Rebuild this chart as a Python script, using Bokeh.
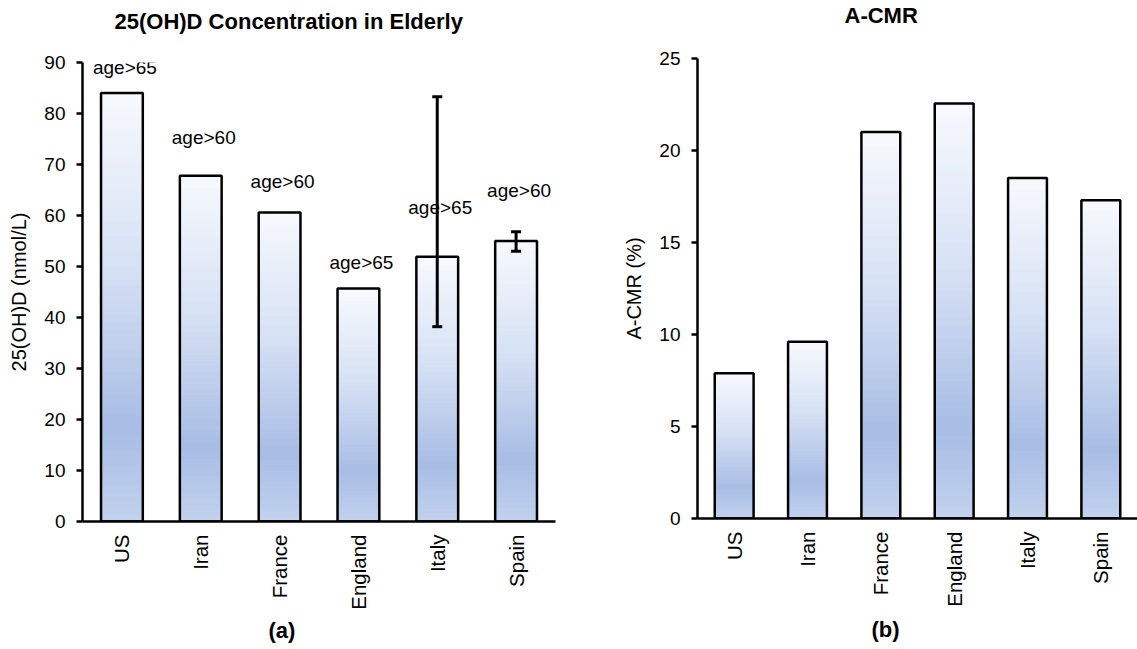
import numpy as np
from bokeh.plotting import figure
from bokeh.models import (FactorRange, Range1d, ColumnDataSource, Whisker, TeeHead,
                          Title, SingleIntervalTicker, LabelSet)
from bokeh.layouts import row
from bokeh.embed import file_html
from bokeh.resources import INLINE
from bokeh.core.properties import value

# ---------------- data ----------------
countries = ["US", "Iran", "France", "England", "Italy", "Spain"]
conc = [84.0, 67.8, 60.6, 45.7, 51.9, 55.0]
age_labels = ["age>65", "age>60", "age>60", "age>65", "age>65", "age>60"]
age_label_y = [89.0, 75.3, 66.7, 50.8, 61.6, 64.9]
err_countries = ["Italy", "Spain"]
err_lower = [38.2, 53.0]
err_upper = [83.3, 56.8]
acmr = [7.9, 9.6, 21.0, 22.55, 18.5, 17.3]

FONT = "Liberation Sans"
BAR_W = 0.53

# gradient stops (fraction of bar height from bottom -> RGB)
STOPS = [(0.0, (194, 210, 238)), (0.22, (168, 189, 229)),
         (0.6, (214, 225, 244)), (1.0, (247, 249, 253))]


def grad_color(t):
    for (t0, c0), (t1, c1) in zip(STOPS[:-1], STOPS[1:]):
        if t <= t1:
            f = (t - t0) / (t1 - t0)
            r, g, b = (int(round(a + (bb - a) * f)) for a, bb in zip(c0, c1))
            return "#%02x%02x%02x" % (r, g, b)
    return "#%02x%02x%02x" % STOPS[-1][1]


def gradient_source(cats, vals, n=60):
    xs, bots, tops, cols = [], [], [], []
    for c, v in zip(cats, vals):
        for i in range(n):
            xs.append(c)
            bots.append(v * i / n)
            tops.append(v * (i + 1) / n)
            cols.append(grad_color((i + 0.5) / n))
    return ColumnDataSource(dict(x=xs, bottom=bots, top=tops, color=cols))


def make_fig(width, height, yend, interval, bl, br, bt, bb, title, title_off,
             spacer, ylabel, sub, sub_off, sub_standoff, vals):
    p = figure(x_range=FactorRange(*countries), y_range=Range1d(0, yend),
               width=width, height=height, output_backend="svg", title=None,
               toolbar_location=None, min_border_left=bl, min_border_right=br,
               min_border_top=bt, min_border_bottom=bb)
    p.frame_align = False
    p.outline_line_color = None
    p.grid.grid_line_color = None
    p.background_fill_color = "white"
    p.border_fill_color = "white"

    p.vbar(x="x", bottom="bottom", top="top", width=BAR_W, fill_color="color",
           line_color="color", line_width=1, source=gradient_source(countries, vals))
    p.vbar(x=countries, top=vals, width=BAR_W, fill_color=None,
           line_color="black", line_width=2.5)

    # invisible spacer between the frame and the title
    p.add_layout(Title(text=" ", text_font_size="1px", standoff=spacer), "above")
    p.add_layout(Title(text=title, align="left", offset=title_off, standoff=0,
                       text_font=FONT, text_font_size="22px", text_font_style="bold",
                       text_color="black"), "above")

    p.add_layout(Title(text=sub, align="left", offset=sub_off, standoff=sub_standoff,
                       text_font=FONT, text_font_size="22px", text_font_style="bold",
                       text_color="black"), "below")

    ya = p.yaxis[0]
    ya.ticker = SingleIntervalTicker(interval=interval)
    ya.axis_line_width = 2.5
    ya.axis_line_color = "black"
    ya.major_tick_line_width = 2.5
    ya.major_tick_out = 6
    ya.major_tick_in = 0
    ya.minor_tick_line_color = None
    ya.major_label_text_font = FONT
    ya.major_label_text_font_size = "19px"
    ya.major_label_text_color = "black"
    ya.major_label_standoff = 11
    ya.axis_label = ylabel
    ya.axis_label_text_font = FONT
    ya.axis_label_text_font_size = "20px"
    ya.axis_label_text_font_style = "normal"
    ya.axis_label_text_color = "black"
    ya.axis_label_standoff = 11

    xa = p.xaxis[0]
    xa.axis_line_width = 2.5
    xa.axis_line_color = "black"
    xa.major_tick_line_color = None
    xa.minor_tick_line_color = None
    xa.major_label_orientation = np.pi / 2
    xa.major_label_text_font = FONT
    xa.major_label_text_font_size = "20.5px"
    xa.major_label_text_color = "black"
    xa.major_label_standoff = 7
    return p


pa = make_fig(600, 649, 90, 10, 82, 45, 62, 128,
              "25(OH)D Concentration in Elderly", 32, 26,
              "25(OH)D (nmol/L)", "(a)", 186, 7, conc)

lab_src = ColumnDataSource(dict(x=countries, y=age_label_y, text=age_labels))
pa.add_layout(LabelSet(x="x", y="y", text="text", source=lab_src, x_offset=3,
                       text_align="center", text_baseline="middle",
                       text_font=value(FONT), text_font_size=value("19px"),
                       text_color="black"))

err_src = ColumnDataSource(dict(base=err_countries, lower=err_lower, upper=err_upper))
pa.add_layout(Whisker(base="base", lower="lower", upper="upper", source=err_src,
                      level="overlay", line_width=3, line_color="black",
                      upper_head=TeeHead(size=10, line_width=3, line_color="black"),
                      lower_head=TeeHead(size=10, line_width=3, line_color="black")))

pb = make_fig(537, 649, 25, 5, 97, 0, 58, 131, "A-CMR", 147, 28,
              "A-CMR (%)", "(b)", 174, 10, acmr)

layout = row(pa, pb)
open("out.html", "w").write(file_html(layout, INLINE))
